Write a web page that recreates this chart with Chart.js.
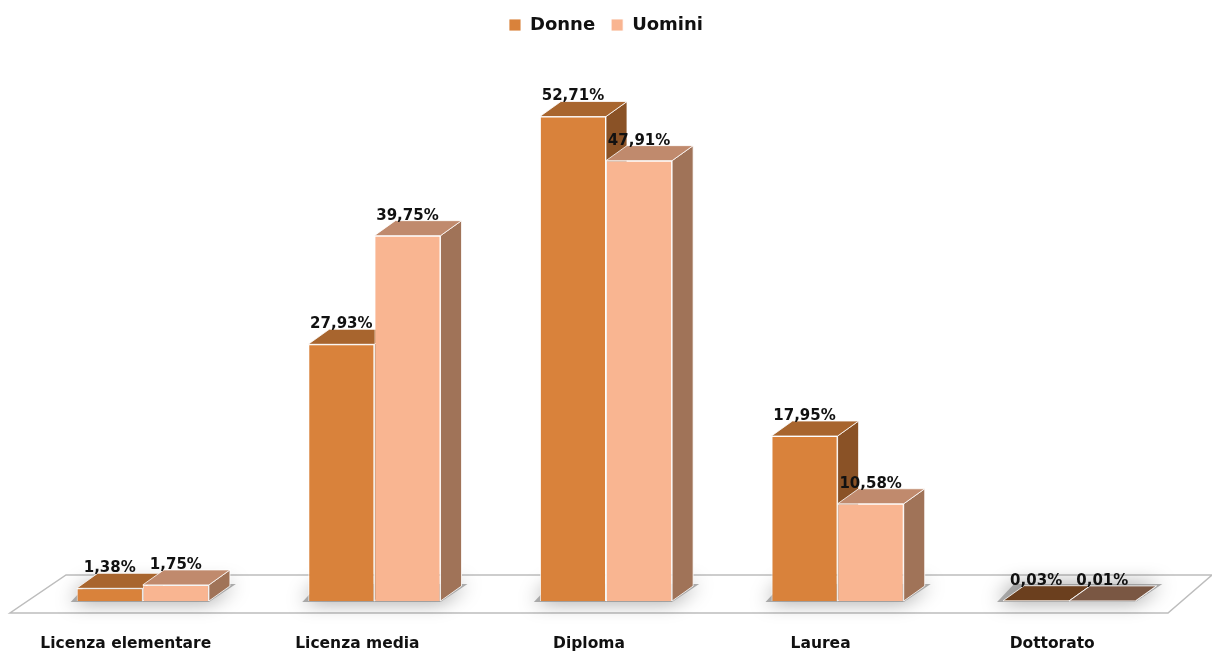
<!DOCTYPE html>
<html>
<head>
<meta charset="utf-8">
<script src="https://cdn.jsdelivr.net/npm/chart.js@4"></script>
<style>
  html, body { margin: 0; padding: 0; background: #fff; }
  #wrap { width: 1212px; height: 655px; }
</style>
</head>
<body>
<div id="wrap"><canvas id="chart"></canvas></div>
<script>
// dati
const categories = ['Licenza elementare', 'Licenza media', 'Diploma', 'Laurea', 'Dottorato'];
const donne = [1.38, 27.93, 52.71, 17.95, 0.03];
const uomini = [1.75, 39.75, 47.91, 10.58, 0.01];

// colori: frontale, sopra, lato
const faces = [
    { front: '#D9823B', top: '#A8652E', side: '#8A5226' },
    { front: '#F9B591', top: '#C08A6D', side: '#A07358' }
];
const DX = 21, DY = -15; // profondità 3D

function fmt(v) {
    return v.toFixed(2).replace('.', ',') + '%';
}

const fake3d = {
    id: 'fake3d',
    beforeDatasetsDraw(chart) {
        const ctx = chart.ctx;
        const base = chart.scales.y.getPixelForValue(0);
        // pavimento
        const fy = base + 12, by = base - 26;
        ctx.save();
        ctx.beginPath();
        ctx.moveTo(10, fy);
        ctx.lineTo(1168, fy);
        ctx.lineTo(1212, by);
        ctx.lineTo(66, by);
        ctx.closePath();
        ctx.fillStyle = '#fff';
        ctx.fill();
        ctx.strokeStyle = '#bdbdbd';
        ctx.lineWidth = 1.5;
        ctx.stroke();
        ctx.restore();

        const n = chart.data.labels.length;
        // ombre sul pavimento
        ctx.save();
        ctx.shadowColor = 'rgba(0,0,0,0.55)';
        ctx.shadowBlur = 20;
        ctx.fillStyle = 'rgba(140,140,140,0.7)';
        for (let i = 0; i < n; i++) {
            const a = chart.getDatasetMeta(0).data[i];
            const z = chart.getDatasetMeta(chart.data.datasets.length - 1).data[i];
            const l = a.x - a.width / 2, r = z.x + z.width / 2;
            ctx.beginPath();
            ctx.moveTo(l - 6, base + 1);
            ctx.lineTo(r, base + 1);
            ctx.lineTo(r + DX + 6, base + DY - 2);
            ctx.lineTo(l + DX - 10, base + DY - 2);
            ctx.closePath();
            ctx.fill();
        }
        ctx.restore();

        // facce superiori e laterali
        ctx.save();
        ctx.strokeStyle = 'rgba(255,255,255,0.8)';
        ctx.lineWidth = 1;
        for (let i = 0; i < n; i++) {
            chart.data.datasets.forEach((ds, d) => {
                const el = chart.getDatasetMeta(d).data[i];
                const l = el.x - el.width / 2, r = el.x + el.width / 2;
                const t = el.y, b = el.base;
                // lato
                ctx.beginPath();
                ctx.moveTo(r, t);
                ctx.lineTo(r + DX, t + DY);
                ctx.lineTo(r + DX, b + DY);
                ctx.lineTo(r, b);
                ctx.closePath();
                ctx.fillStyle = faces[d].side;
                ctx.fill();
                ctx.stroke();
                // sopra
                ctx.beginPath();
                ctx.moveTo(l, t);
                ctx.lineTo(l + DX, t + DY);
                ctx.lineTo(r + DX, t + DY);
                ctx.lineTo(r, t);
                ctx.closePath();
                ctx.fillStyle = (b - t) < 2 ? (d === 0 ? '#6B3F1E' : '#7A5743') : faces[d].top;
                ctx.fill();
                ctx.stroke();
            });
        }
        ctx.restore();
    },
    afterDatasetsDraw(chart) {
        const ctx = chart.ctx;
        ctx.save();
        ctx.font = 'bold 15px "DejaVu Sans"';
        ctx.fillStyle = '#111';
        ctx.textAlign = 'center';
        ctx.textBaseline = 'middle';
        chart.data.datasets.forEach((ds, d) => {
            chart.getDatasetMeta(d).data.forEach((el, i) => {
                ctx.fillText(fmt(ds.data[i]), el.x, el.y - 20);
            });
        });
        ctx.restore();
    }
};

new Chart(document.getElementById('chart'), {
    type: 'bar',
    data: {
        labels: categories,
        datasets: [
            { label: 'Donne', data: donne, backgroundColor: faces[0].front, borderColor: 'rgba(255,255,255,0.85)', borderWidth: 1 },
            { label: 'Uomini', data: uomini, backgroundColor: faces[1].front, borderColor: 'rgba(255,255,255,0.85)', borderWidth: 1 }
        ]
    },
    options: {
        responsive: true,
        maintainAspectRatio: false,
        animation: false,
        layout: { padding: { left: 27, right: 27, top: 0, bottom: 0 } },
        datasets: {
            bar: { categoryPercentage: 0.571, barPercentage: 1 }
        },
        scales: {
            x: {
                grid: { display: false, drawTicks: false },
                border: { display: false },
                afterFit(scale) { scale.height = 54; },
                ticks: {
                    padding: 34,
                    labelOffset: -17,
                    color: '#111',
                    font: { family: 'DejaVu Sans', size: 15.5, weight: 'bold' }
                }
            },
            y: {
                display: false,
                min: 0,
                max: 60.6
            }
        },
        plugins: {
            legend: {
                position: 'top',
                labels: {
                    boxWidth: 12,
                    boxHeight: 12,
                    padding: 16,
                    color: '#111',
                    font: { family: 'DejaVu Sans', size: 18, weight: 'bold' }
                }
            },
            tooltip: { enabled: false }
        }
    },
    plugins: [fake3d]
});
</script>
</body>
</html>
